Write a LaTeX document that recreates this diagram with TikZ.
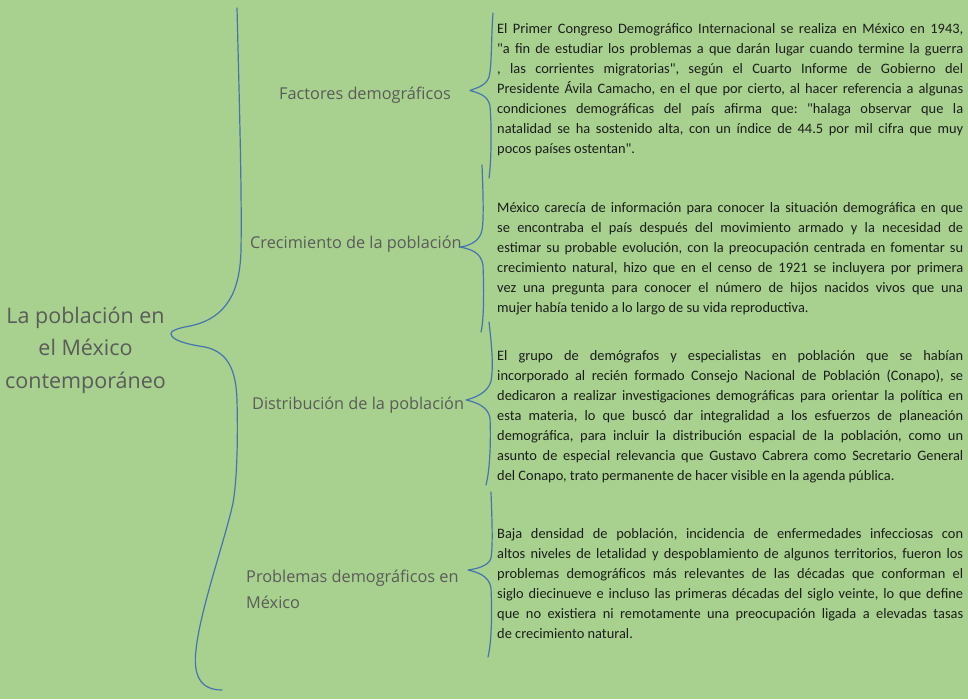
\documentclass[tikz,border=0pt]{standalone}
\usepackage{fontspec}
\setmainfont{Carlito}[Ligatures=TeXOff]
\newfontfamily\lblfont{Open Sans}
\definecolor{bg}{RGB}{168,208,142}
\definecolor{brace}{RGB}{70,116,178}
\definecolor{lbl}{RGB}{90,92,90}
\definecolor{body}{RGB}{28,30,28}
\frenchspacing
\begin{document}
\begin{tikzpicture}[x=1pt,y=-1pt,
  bracestyle/.style={draw=brace,line width=1.2pt,line cap=round,line join=round},
  para/.style={anchor=north west,inner sep=0pt,text width=466pt,align=justify,
    font=\fontsize{14.4}{20.0}\selectfont,text=body},
  lbl/.style={anchor=base west,inner sep=0pt,font=\lblfont\fontsize{16.3}{26}\selectfont,text=lbl,align=left},
  ttl/.style={inner sep=0pt,font=\lblfont\fontsize{21.5}{32.5}\selectfont,text=lbl,align=center}]
\useasboundingbox[fill=bg] (0,0) rectangle (968,699);

% title
\node[ttl,anchor=base] (title) at (85.5,388) {La población en\\el México\\contemporáneo};

% labels
\node[lbl] (l1) at (279,99.5) {Factores demográficos};
\node[lbl] (l2) at (250,248.5) {Crecimiento de la población};
\node[lbl] (l3) at (252,409.5) {Distribución de la población};
\node[lbl] (l4) at (246,608) {Problemas demográficos en\\México};

% paragraphs
\node[para] (p1) at (497,23.5) {El Primer Congreso Demográfico Internacional se realiza en México en 1943,\linebreak
"a fin de estudiar los problemas a que darán lugar cuando termine la guerra\linebreak
, las corrientes migratorias", según el Cuarto Informe de Gobierno del\linebreak
Presidente Ávila Camacho, en el que por cierto, al hacer referencia a algunas\linebreak
condiciones demográficas del país afirma que: "halaga observar que la\linebreak
natalidad se ha sostenido alta, con un índice de 44.5 por mil cifra que muy\linebreak
pocos países ostentan".};

\node[para] (p2) at (497,202) {México carecía de información para conocer la situación demográfica en que\linebreak
se encontraba el país después del movimiento armado y la necesidad de\linebreak
estimar su probable evolución, con la preocupación centrada en fomentar su\linebreak
crecimiento natural, hizo que en el censo de 1921 se incluyera por primera\linebreak
vez una pregunta para conocer el número de hijos nacidos vivos que una\linebreak
mujer había tenido a lo largo de su vida reproductiva.};

\node[para] (p3) at (497,350) {El grupo de demógrafos y especialistas en población que se habían\linebreak
incorporado al recién formado Consejo Nacional de Población (Conapo), se\linebreak
dedicaron a realizar investigaciones demográficas para orientar la política en\linebreak
esta materia, lo que buscó dar integralidad a los esfuerzos de planeación\linebreak
demográfica, para incluir la distribución espacial de la población, como un\linebreak
asunto de especial relevancia que Gustavo Cabrera como Secretario General\linebreak
del Conapo, trato permanente de hacer visible en la agenda pública.};

\node[para] (p4) at (497,528) {Baja densidad de población, incidencia de enfermedades infecciosas con\linebreak
altos niveles de letalidad y despoblamiento de algunos territorios, fueron los\linebreak
problemas demográficos más relevantes de las décadas que conforman el\linebreak
siglo diecinueve e incluso las primeras décadas del siglo veinte, lo que define\linebreak
que no existiera ni remotamente una preocupación ligada a elevadas tasas\linebreak
de crecimiento natural.};

% big brace
\draw[bracestyle] (237,8) .. controls (239,90) and (242,190) .. (241,250)
  .. controls (240,290) and (228,318) .. (190,326)
  .. controls (178,328) and (170,331) .. (171,334)
  .. controls (172,340) and (185,344) .. (205,347)
  .. controls (228,352) and (236,370) .. (237,400)
  .. controls (238,440) and (237,480) .. (233,503)
  .. controls (225,540) and (200,610) .. (196,650)
  .. controls (193,675) and (200,690) .. (222,690);

% small braces
\draw[bracestyle] (493,13) .. controls (491,40) and (492,65) .. (489,77)
  .. controls (486,86) and (476,88) .. (470,90.5)
  .. controls (478,93) and (488,95) .. (490,106)
  .. controls (492,130) and (491,165) .. (489,178);
\draw[bracestyle] (482,165) .. controls (483,190) and (484,220) .. (482,230)
  .. controls (480,242) and (468,246) .. (460,247)
  .. controls (470,249) and (481,252) .. (483,265)
  .. controls (484,290) and (484,320) .. (481,332);
\draw[bracestyle] (489,322) .. controls (491,340) and (494,365) .. (491,381)
  .. controls (488,393) and (474,398) .. (466,400)
  .. controls (475,402) and (488,406) .. (490,418)
  .. controls (491,440) and (490,470) .. (486,485);
\draw[bracestyle] (491,492) .. controls (492,520) and (493,545) .. (491,558)
  .. controls (489,566) and (476,569) .. (468,570)
  .. controls (476,572) and (489,575) .. (491,588)
  .. controls (492,610) and (492,640) .. (488,657);
\end{tikzpicture}
\end{document}
